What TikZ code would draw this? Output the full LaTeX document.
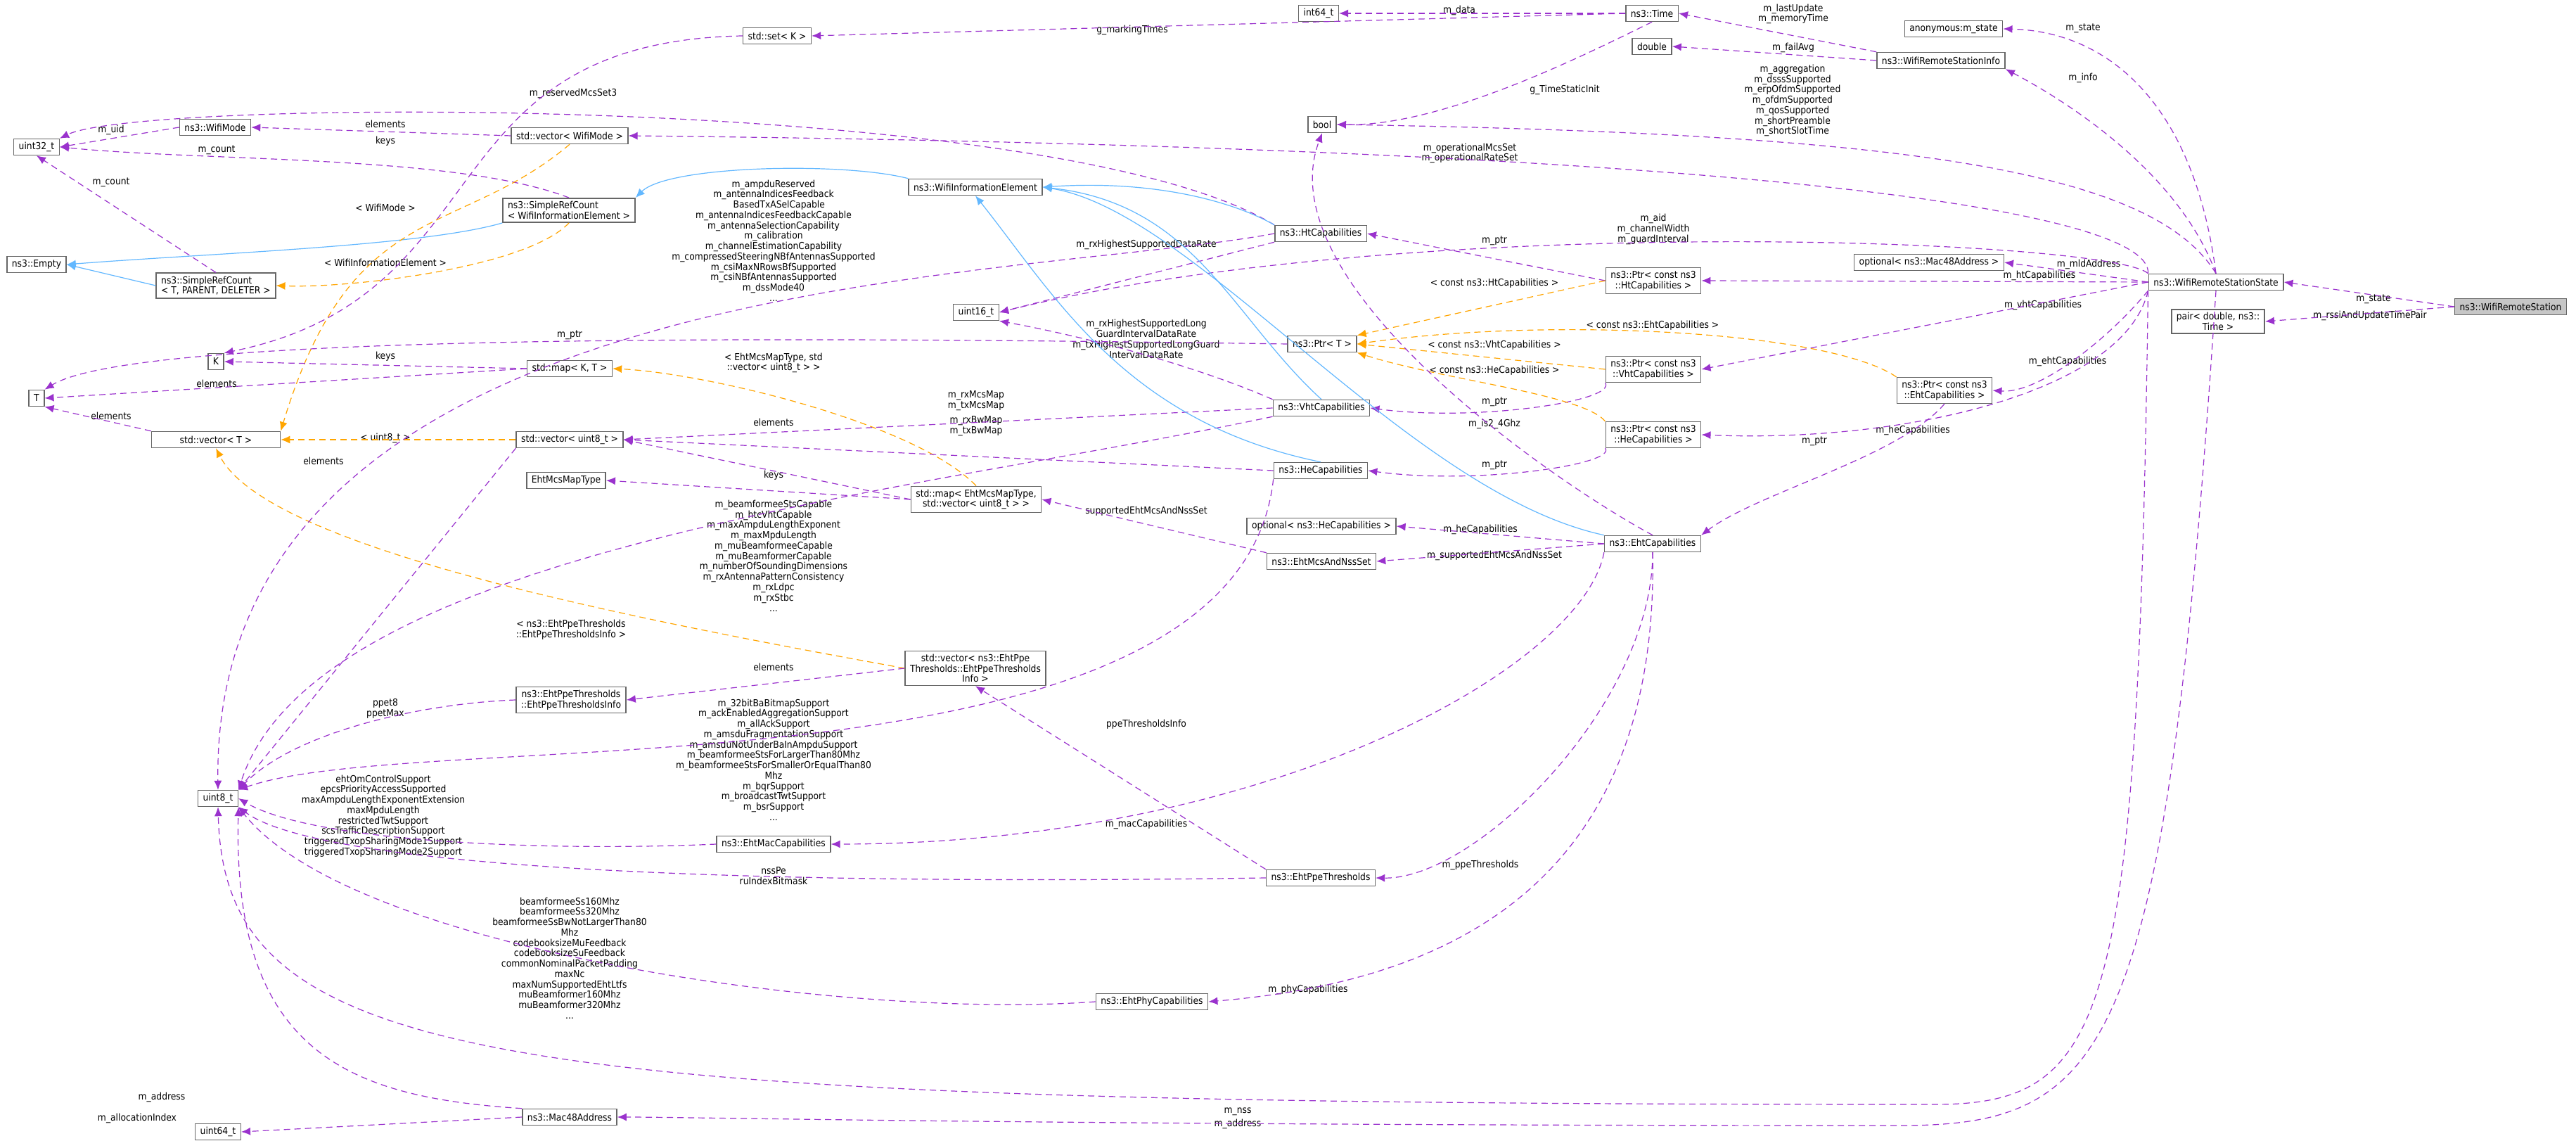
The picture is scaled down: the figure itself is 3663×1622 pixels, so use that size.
\documentclass[tikz,border=0pt]{standalone}
\usepackage{fontspec}
\setmainfont{DejaVu Sans Condensed}
\usetikzlibrary{arrows.meta}
\definecolor{ppl}{RGB}{154,50,205}
\definecolor{blu}{RGB}{99,184,255}
\definecolor{org}{RGB}{255,165,0}
\definecolor{bdr}{RGB}{102,102,102}
\begin{document}
\begin{tikzpicture}[x=0.1mm,y=-0.1mm,
  nd/.style={draw=bdr,line width=0.15mm,fill=white,font=\fontsize{3.9}{4.2}\selectfont,align=center,inner xsep=0.7mm,inner ysep=0.45mm,minimum height=2.3mm},
  lb/.style={font=\fontsize{3.9}{4.2}\selectfont,align=center,inner sep=0pt},
  pe/.style={draw=ppl,line width=0.12mm,dash pattern=on 0.9mm off 0.6mm,-{Latex[length=1.3mm,width=1.1mm]}},
  oe/.style={draw=org,line width=0.12mm,dash pattern=on 0.9mm off 0.6mm,-{Latex[length=1.3mm,width=1.1mm]}},
  be/.style={draw=blu,line width=0.12mm,-{Latex[length=1.3mm,width=1.1mm]}}]
\useasboundingbox[fill=white] (0,0) rectangle (3663,1622);
% nodes
\node[nd,fill=gray!45] (wrs) at (3570,436) {ns3::WifiRemoteStation};
\node[nd] (wrss) at (3151,401) {ns3::WifiRemoteStationState};
\node[nd] (pair) at (3154,457) {pair\textless{} double, ns3::\\Time \textgreater{}};
\node[nd] (anon) at (2778,41) {anonymous:m\_state};
\node[nd] (wrsi) at (2760,86) {ns3::WifiRemoteStationInfo};
\node[nd] (time) at (2349,19) {ns3::Time};
\node[nd] (dbl) at (2349,66) {double};
\node[nd] (int64) at (1875,19) {int64\_t};
\node[nd] (bool) at (1880,177) {bool};
\node[nd] (setK) at (1105,51) {std::set\textless{} K \textgreater{}};
\node[nd] (u32) at (52,209) {uint32\_t};
\node[nd] (wmode) at (306,181) {ns3::WifiMode};
\node[nd] (vecwm) at (810,193) {std::vector\textless{} WifiMode \textgreater{}};
\node[nd,align=left] (srcwie) at (809,299) {ns3::SimpleRefCount\\\textless{} WifiInformationElement \textgreater{}};
\node[nd] (empty) at (52,376) {ns3::Empty};
\node[nd,align=left] (srct) at (307,406) {ns3::SimpleRefCount\\\textless{} T, PARENT, DELETER \textgreater{}};
\node[nd] (K) at (307,514) {K};
\node[nd] (T) at (52,566) {T};
\node[nd] (mapKT) at (810,524) {std::map\textless{} K, T \textgreater{}};
\node[nd,minimum width=18.3mm] (vecT) at (307,625) {std::vector\textless{} T \textgreater{}};
\node[nd] (vecu8) at (810,625) {std::vector\textless{} uint8\_t \textgreater{}};
\node[nd] (emmt) at (805,683) {EhtMcsMapType};
\node[nd] (mapEht) at (1388,710) {std::map\textless{} EhtMcsMapType,\\std::vector\textless{} uint8\_t \textgreater{} \textgreater{}};
\node[nd] (wie) at (1387,266) {ns3::WifiInformationElement};
\node[nd] (u16) at (1388,444) {uint16\_t};
\node[nd] (htc) at (1878,332) {ns3::HtCapabilities};
\node[nd] (ptrht) at (2351,399) {ns3::Ptr\textless{} const ns3\\::HtCapabilities \textgreater{}};
\node[nd] (ptrt) at (1880,489) {ns3::Ptr\textless{} T \textgreater{}};
\node[nd] (ptrvht) at (2351,525) {ns3::Ptr\textless{} const ns3\\::VhtCapabilities \textgreater{}};
\node[nd] (vhtc) at (1879,580) {ns3::VhtCapabilities};
\node[nd] (ptrhe) at (2351,618) {ns3::Ptr\textless{} const ns3\\::HeCapabilities \textgreater{}};
\node[nd] (hec) at (1878,669) {ns3::HeCapabilities};
\node[nd] (ptreht) at (2765,555) {ns3::Ptr\textless{} const ns3\\::EhtCapabilities \textgreater{}};
\node[nd] (optmac) at (2743,373) {optional\textless{} ns3::Mac48Address \textgreater{}};
\node[nd] (ehtc) at (2350,773) {ns3::EhtCapabilities};
\node[nd] (opthe) at (1879,748) {optional\textless{} ns3::HeCapabilities \textgreater{}};
\node[nd] (emns) at (1879,798) {ns3::EhtMcsAndNssSet};
\node[nd] (vecppe) at (1387,950) {std::vector\textless{} ns3::EhtPpe\\Thresholds::EhtPpeThresholds\\Info \textgreater{}};
\node[nd] (ppeinfo) at (812,995) {ns3::EhtPpeThresholds\\::EhtPpeThresholdsInfo};
\node[nd] (u8) at (310,1135) {uint8\_t};
\node[nd] (ehtmac) at (1100,1200) {ns3::EhtMacCapabilities};
\node[nd] (ehtppe) at (1878,1248) {ns3::EhtPpeThresholds};
\node[nd] (ehtphy) at (1638,1424) {ns3::EhtPhyCapabilities};
\node[nd] (mac48) at (810,1588) {ns3::Mac48Address};
\node[nd] (u64) at (310,1609) {uint64\_t};
% labels
\node[lb] (l1) at (3375,425) {m\_state};
\node[lb] (l2) at (3370,449) {m\_rssiAndUpdateTimePair};
\node[lb] (l3) at (2962,40) {m\_state};
\node[lb] (l4) at (2962,111) {m\_info};
\node[lb] (l5) at (2550,20) {m\_lastUpdate\\m\_memoryTime};
\node[lb] (l6) at (2550,68) {m\_failAvg};
\node[lb] (l7) at (2549,143) {m\_aggregation\\m\_dsssSupported\\m\_erpOfdmSupported\\m\_ofdmSupported\\m\_qosSupported\\m\_shortPreamble\\m\_shortSlotTime};
\node[lb] (l8) at (2090,218) {m\_operationalMcsSet\\m\_operationalRateSet};
\node[lb] (l9) at (2351,326) {m\_aid\\m\_channelWidth\\m\_guardInterval};
\node[lb] (l10) at (2970,376) {m\_mldAddress};
\node[lb] (l11) at (2900,392) {m\_htCapabilities};
\node[lb] (l12) at (2905,434) {m\_vhtCapabilities};
\node[lb] (l13) at (2940,514) {m\_ehtCapabilities};
\node[lb] (l14) at (2720,612) {m\_heCapabilities};
\node[lb] (l15) at (1760,1580) {m\_nss};
\node[lb] (l16) at (1760,1598) {m\_address};
\node[lb] (l17a) at (230,1560) {m\_address};
\node[lb] (l17b) at (195,1590) {m\_allocationIndex};
\node[lb] (l18) at (2075,15) {m\_data};
\node[lb] (l19) at (2225,128) {g\_TimeStaticInit};
\node[lb] (l20) at (1610,43) {g\_markingTimes};
\node[lb] (l21) at (548,201) {keys};
\node[lb] (l22) at (548,176) {elements};
\node[lb] (l23) at (158,185) {m\_uid};
\node[lb] (l24) at (308,213) {m\_count};
\node[lb] (l25) at (158,259) {m\_count};
\node[lb] (l26) at (815,133) {m\_reservedMcsSet3};
\node[lb] (l30) at (548,295) {\textless{} WifiMode \textgreater{}};
\node[lb] (l31) at (548,373) {\textless{} WifiInformationElement \textgreater{}};
\node[lb] (l32a) at (548,507) {keys};
\node[lb] (l32b) at (308,545) {elements};
\node[lb] (l33) at (158,591) {elements};
\node[lb] (l34) at (810,476) {m\_ptr};
\node[lb] (l35) at (1100,516) {\textless{} EhtMcsMapType, std\\::vector\textless{} uint8\_t \textgreater{} \textgreater{}};
\node[lb] (l36) at (548,623) {\textless{} uint8\_t \textgreater{}};
\node[lb] (l37) at (460,655) {elements};
\node[lb] (l38a) at (1100,600) {elements};
\node[lb] (l38b) at (1100,676) {keys};
\node[lb] (l40) at (1630,727) {supportedEhtMcsAndNssSet};
\node[lb] (l41) at (812,895) {\textless{} ns3::EhtPpeThresholds\\::EhtPpeThresholdsInfo \textgreater{}};
\node[lb] (l42) at (1100,948) {elements};
\node[lb] (l43) at (548,1007) {ppet8\\ppetMax};
\node[lb] (l44) at (1100,342) {m\_ampduReserved\\m\_antennaIndicesFeedback\\\ \ \ \ BasedTxASelCapable\\m\_antennaIndicesFeedbackCapable\\m\_antennaSelectionCapability\\m\_calibration\\m\_channelEstimationCapability\\m\_compressedSteeringNBfAntennasSupported\\m\_csiMaxNRowsBfSupported\\m\_csiNBfAntennasSupported\\m\_dssMode40\\...};
\node[lb] (l45) at (1630,348) {m\_rxHighestSupportedDataRate};
\node[lb] (l46) at (1630,482) {m\_rxHighestSupportedLong\\GuardIntervalDataRate\\m\_txHighestSupportedLongGuard\\IntervalDataRate};
\node[lb] (l47) at (1388,570) {m\_rxMcsMap\\m\_txMcsMap};
\node[lb] (l48) at (1388,606) {m\_rxBwMap\\m\_txBwMap};
\node[lb] (l49) at (1100,790) {m\_beamformeeStsCapable\\m\_htcVhtCapable\\m\_maxAmpduLengthExponent\\m\_maxMpduLength\\m\_muBeamformeeCapable\\m\_muBeamformerCapable\\m\_numberOfSoundingDimensions\\m\_rxAntennaPatternConsistency\\m\_rxLdpc\\m\_rxStbc\\...};
\node[lb] (l50) at (1100,1080) {m\_32bitBaBitmapSupport\\m\_ackEnabledAggregationSupport\\m\_allAckSupport\\m\_amsduFragmentationSupport\\m\_amsduNotUnderBaInAmpduSupport\\m\_beamformeeStsForLargerThan80Mhz\\m\_beamformeeStsForSmallerOrEqualThan80\\Mhz\\m\_bqrSupport\\m\_broadcastTwtSupport\\m\_bsrSupport\\...};
\node[lb] (l51) at (545,1160) {ehtOmControlSupport\\epcsPriorityAccessSupported\\maxAmpduLengthExponentExtension\\maxMpduLength\\restrictedTwtSupport\\scsTrafficDescriptionSupport\\triggeredTxopSharingMode1Support\\triggeredTxopSharingMode2Support};
\node[lb] (l52) at (1100,1245) {nssPe\\ruIndexBitmask};
\node[lb] (l53) at (810,1362) {beamformeeSs160Mhz\\beamformeeSs320Mhz\\beamformeeSsBwNotLargerThan80\\Mhz\\codebooksizeMuFeedback\\codebooksizeSuFeedback\\commonNominalPacketPadding\\maxNc\\maxNumSupportedEhtLtfs\\muBeamformer160Mhz\\muBeamformer320Mhz\\...};
\node[lb] (l54a) at (2105,753) {m\_heCapabilities};
\node[lb] (l54b) at (2125,790) {m\_supportedEhtMcsAndNssSet};
\node[lb] (l55) at (1630,1172) {m\_macCapabilities};
\node[lb] (l56) at (2105,1230) {m\_ppeThresholds};
\node[lb] (l57) at (1860,1407) {m\_phyCapabilities};
\node[lb] (l58) at (1630,1030) {ppeThresholdsInfo};
\node[lb] (l59a) at (2125,342) {m\_ptr};
\node[lb] (l59b) at (2125,571) {m\_ptr};
\node[lb] (l59c) at (2125,661) {m\_ptr};
\node[lb] (l59d) at (2580,627) {m\_ptr};
\node[lb] (l60a) at (2125,403) {\textless{} const ns3::HtCapabilities \textgreater{}};
\node[lb] (l60b) at (2125,491) {\textless{} const ns3::VhtCapabilities \textgreater{}};
\node[lb] (l60c) at (2125,527) {\textless{} const ns3::HeCapabilities \textgreater{}};
\node[lb] (l60d) at (2350,463) {\textless{} const ns3::EhtCapabilities \textgreater{}};
\node[lb] (l62) at (2125,603) {m\_is2\_4Ghz};
% edges
\draw[pe] (wrs.west) -- (wrss.east);
\draw[pe] (wrs.west) -- (pair.east);
\draw[pe] (wrss.north) .. controls (3120,150) and (3000,45) .. (anon.east);
\draw[pe] (wrss.north) .. controls (3100,250) and (2950,150) .. (wrsi.south east);
\draw[pe] (wrsi.north west) -- (time.east);
\draw[pe] (wrsi.west) -- (dbl.east);
\draw[pe] (wrss.north) .. controls (3060,240) and (2700,190) .. (bool.east);
\draw[pe] (wrss.north west) .. controls (3060,300) and (2500,210) .. (vecwm.east);
\draw[pe] (wrss.north west) .. controls (3000,340) and (2000,300) .. (u16.east);
\draw[pe] (wrss.west) -- (optmac.east);
\draw[pe] (wrss.west) -- (ptrht.east);
\draw[pe] (wrss.west) -- (ptrvht.east);
\draw[pe] (wrss.south west) .. controls (3000,480) and (2900,560) .. (ptreht.east);
\draw[pe] (wrss.south west) .. controls (3020,560) and (2700,630) .. (ptrhe.east);
\draw[pe] (wrss.south west) .. controls (3040,1450) and (3000,1570) .. (2750,1570) .. controls (700,1570) and (320,1520) .. (u8.south);
\draw[pe] (wrss.south) .. controls (3080,1500) and (3000,1600) .. (2700,1600) .. controls (1500,1600) and (1000,1588) .. (mac48.east);
\draw[pe] (mac48.west) -- (u64.east);
\draw[pe] (mac48.north west) .. controls (500,1560) and (330,1500) .. (u8.south east);
\draw[pe] (time.west) -- (int64.east);
\draw[pe] (time.south) .. controls (2250,80) and (2050,180) .. (bool.east);
\draw[pe] (time.west) -- (setK.east);
\draw[pe] (setK.west) .. controls (600,60) and (720,420) .. (K.north east);
\draw[pe] (vecwm.west) -- (wmode.east);
\draw[pe] (wmode.west) -- (u32.east);
\draw[pe] (srcwie.north) .. controls (650,220) and (300,230) .. (u32.east);
\draw[pe] (srct.north) -- (u32.south);
\draw[pe] (htc.north west) .. controls (1500,130) and (200,140) .. (u32.north east);
\draw[be] (srcwie.south west) .. controls (600,350) and (300,360) .. (empty.east);
\draw[be] (srct.west) -- (empty.east);
\draw[be] (wie.north west) .. controls (1200,230) and (950,235) .. (srcwie.north east);
\draw[oe] (vecwm.south) .. controls (650,340) and (500,280) .. (vecT.north east);
\draw[oe] (srcwie.south) .. controls (750,380) and (500,410) .. (srct.east);
\draw[pe] (mapKT.west) -- (K.east);
\draw[pe] (mapKT.west) -- (T.east);
\draw[pe] (vecT.north west) -- (T.south east);
\draw[pe] (ptrt.west) .. controls (1200,480) and (200,470) .. (T.north east);
\draw[oe] (mapEht.north) .. controls (1300,600) and (1000,530) .. (mapKT.east);
\draw[oe] (vecu8.west) -- (vecT.east);
\draw[pe] (vecu8.south west) -- (u8.north east);
\draw[pe] (mapEht.west) -- (vecu8.east);
\draw[pe] (mapEht.west) -- (emmt.east);
\draw[pe] (emns.north west) -- (mapEht.east);
\draw[oe] (vecppe.west) .. controls (900,880) and (380,780) .. (vecT.south);
\draw[pe] (vecppe.west) -- (ppeinfo.east);
\draw[pe] (ppeinfo.west) .. controls (600,1000) and (420,1040) .. (u8.north east);
\draw[pe] (htc.west) .. controls (1450,400) and (300,380) .. (u8.north);
\draw[pe] (htc.south west) -- (u16.east);
\draw[pe] (vhtc.north west) .. controls (1700,520) and (1550,480) .. (u16.south east);
\draw[pe] (vhtc.west) -- (vecu8.east);
\draw[pe] (hec.west) -- (vecu8.east);
\draw[pe] (vhtc.south west) .. controls (1300,700) and (450,780) .. (u8.north east);
\draw[pe] (hec.south west) .. controls (1760,1150) and (600,1030) .. (u8.north east);
\draw[pe] (ehtmac.west) .. controls (800,1210) and (450,1200) .. (u8.east);
\draw[pe] (ehtppe.west) .. controls (1000,1260) and (450,1230) .. (u8.south east);
\draw[pe] (ehtphy.west) .. controls (1200,1450) and (500,1350) .. (u8.south east);
\draw[pe] (ehtc.west) -- (opthe.east);
\draw[pe] (ehtc.west) -- (emns.east);
\draw[pe] (ehtc.south west) .. controls (2250,950) and (1800,1200) .. (ehtmac.east);
\draw[pe] (ehtc.south) .. controls (2350,1000) and (2100,1250) .. (ehtppe.east);
\draw[pe] (ehtc.south) .. controls (2360,1300) and (2000,1400) .. (ehtphy.east);
\draw[pe] (ehtppe.north west) -- (vecppe.south);
\draw[pe] (ptrht.west) -- (htc.east);
\draw[pe] (ptrvht.south west) .. controls (2300,570) and (2100,600) .. (vhtc.east);
\draw[pe] (ptrhe.south west) .. controls (2300,660) and (2100,690) .. (hec.east);
\draw[pe] (ptreht.south) .. controls (2700,650) and (2500,700) .. (ehtc.north east);
\draw[oe] (ptrht.west) -- (ptrt.north east);
\draw[oe] (ptrvht.west) -- (ptrt.east);
\draw[oe] (ptrhe.north west) .. controls (2250,560) and (2050,540) .. (ptrt.south east);
\draw[oe] (ptreht.north west) .. controls (2600,470) and (2200,450) .. (ptrt.east);
\draw[be] (htc.north west) .. controls (1760,290) and (1650,255) .. (wie.east);
\draw[be] (vhtc.north) .. controls (1750,450) and (1700,290) .. (wie.east);
\draw[be] (hec.north) .. controls (1600,600) and (1500,420) .. (wie.south);
\draw[be] (ehtc.north west) .. controls (2000,700) and (1700,300) .. (wie.east);
\draw[pe] (ehtc.north) .. controls (2200,680) and (1800,400) .. (bool.south);
\end{tikzpicture}
\end{document}
